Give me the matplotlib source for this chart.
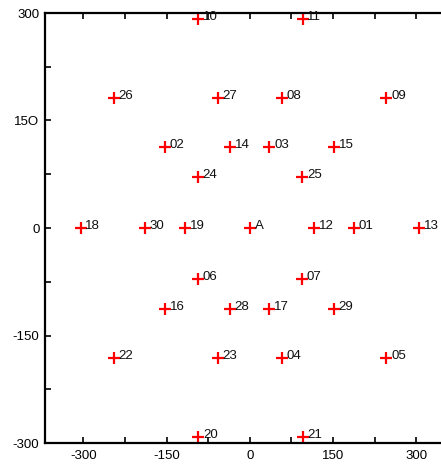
import matplotlib
matplotlib.use("Agg")
import matplotlib.pyplot as plt
from matplotlib.ticker import FixedLocator

plt.rcParams['font.family'] = ['Liberation Sans', 'DejaVu Sans']

names = ["10", "11", "26", "27", "08", "09", "02", "14", "03", "15", "24", "25",
         "18", "30", "19", "A", "12", "01", "13",
         "06", "07", "16", "28", "17", "29", "22", "23", "04", "05", "20", "21"]
xs = [-93, 95, -245, -58, 58, 246, -153, -36, 35, 151, -94, 94,
      -305, -189, -117, 0, 115, 187, 305,
      -94, 94, -153, -36, 35, 151, -245, -58, 58, 246, -93, 95]
ys = [292, 292, 181, 181, 181, 181, 113, 113, 113, 113, 71, 71,
      0, 0, 0, 0, 0, 0, 0,
      -71, -71, -113, -113, -113, -113, -181, -181, -181, -181, -292, -292]

xticks = [-300, -150, 0, 150, 300]
xticklabels = ["-300", "-150", "0", "150", "300"]
yticks = [300, 150, 0, -150, -300]
yticklabels = ["300", "15O", "0", "-150", "-300"]
minor = [-225, -75, 75, 225]

fig = plt.figure(figsize=(4.41, 4.69), dpi=100)
ax = fig.add_axes([45/441, 26/469, 1 - 45/441, (443 - 13)/469])

ax.plot(xs, ys, linestyle='none', marker='+', color='red', markersize=8, mew=1.6, clip_on=False)
for n, x, y in zip(names, xs, ys):
    ax.annotate(n, (x, y), xytext=(3.5, 1.5), textcoords='offset points',
                ha='left', va='center', fontsize=9.5, color='#111111')

ax.set_xlim(-369, 344.5)
ax.set_ylim(-300, 300)
ax.set_xticks(xticks)
ax.set_xticklabels(xticklabels)
ax.set_yticks(yticks)
ax.set_yticklabels(yticklabels)
ax.xaxis.set_minor_locator(FixedLocator(minor))
ax.yaxis.set_minor_locator(FixedLocator(minor))

for s in ['left', 'top', 'bottom']:
    ax.spines[s].set_linewidth(1.6)
ax.spines['right'].set_visible(False)

ax.tick_params(which='both', direction='in', top=True, bottom=True, left=True, right=False,
               length=4, width=1.2, labelsize=9.5, colors='black')
ax.tick_params(axis='x', pad=5)
ax.tick_params(axis='y', pad=4)

fig.savefig("out.png", dpi=100)
